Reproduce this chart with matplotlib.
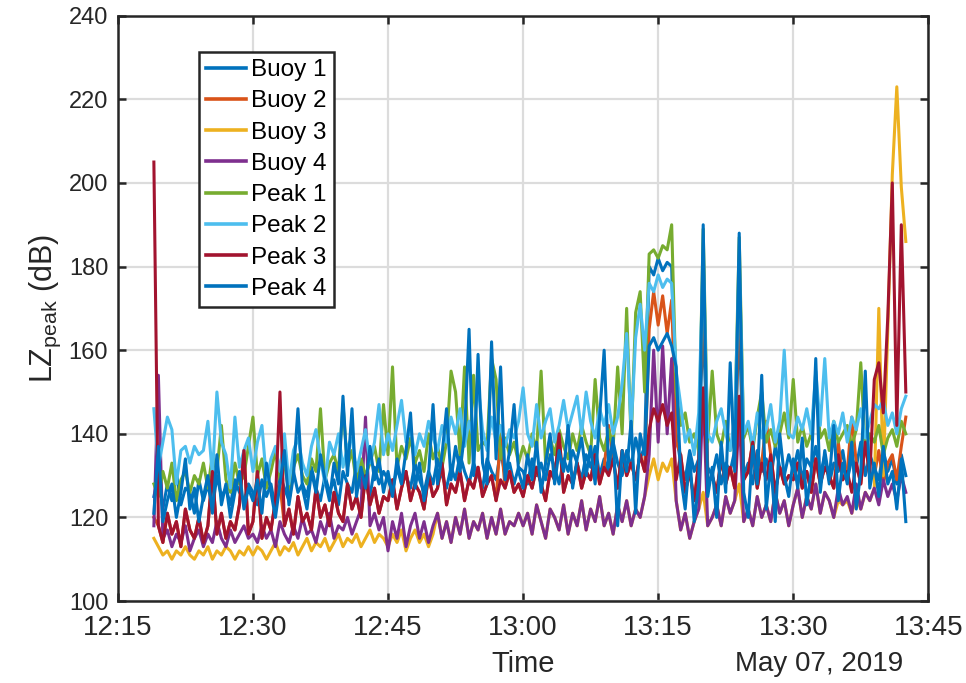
import matplotlib
matplotlib.use("Agg")
import matplotlib.pyplot as plt
import matplotlib.dates as mdates
import pandas as pd

plt.rcParams['font.family'] = ['Liberation Sans', 'DejaVu Sans']
plt.rcParams['mathtext.default'] = 'regular'

# one sample every 30 s, 12:19:00 -> 13:42:30
times = pd.date_range('2019-05-07 12:19:00', periods=168, freq='30s')

buoy1 = [
    125, 130, 122, 128, 124, 131, 123, 127, 126, 121, 129, 124, 128, 122, 130, 125, 127, 123, 129, 126, 124, 128,
    126, 123, 129, 125, 128, 122, 130, 127, 124, 131, 126, 128, 125, 132, 127, 124, 130, 126, 129, 123, 131, 128, 126, 133, 127, 130, 125, 132, 128, 131,
    129, 126, 132, 128, 130, 127, 133, 129, 126, 131, 128, 134, 130, 127, 132, 129, 135, 131, 128, 133, 130, 127, 134, 131, 129, 136, 130, 133, 128, 132,
    131, 128, 134, 130, 133, 129, 135, 132, 128, 134, 131, 136, 133, 129, 135, 132, 137, 130, 134, 131, 138, 133, 130, 136, 132, 139, 134, 137,
    180, 178, 182, 179, 181, 180,
    140, 133, 129, 136, 131, 134,
    168, 132,
    130, 135, 128, 133, 131, 136,
    167, 130,
    133, 128, 136, 131, 134, 129, 137, 132, 130, 135,
    131, 136, 129, 134, 132, 137, 130, 135, 128, 133, 131, 136, 129, 134, 132, 138, 130, 135,
    132, 129, 136, 131, 134, 128, 135, 130,
]

buoy2 = [
    120, 118, 114, 121, 116, 119, 113, 122, 117, 115, 120, 114, 118, 131, 116, 121, 115, 119, 117, 123, 136, 116,
    119, 131, 115, 120, 117, 124, 128, 118, 122, 116, 125, 119, 121, 117, 127, 120, 123, 118, 126, 121, 119, 128, 122, 125, 120, 130, 123, 127, 121, 125,
    124, 129, 122, 127, 131, 124, 128, 126, 122, 130, 125, 127, 133, 123, 128, 126, 131, 124, 129, 127, 132, 125, 128, 130, 124, 140, 127, 131, 126, 128,
    125, 130, 127, 132, 128, 124, 131, 129, 140, 126, 130, 128, 133, 127, 131, 129, 135, 128, 132, 142, 134, 127, 136, 130, 133, 129, 135, 131,
    165, 174, 166, 173, 164, 172,
    138, 135, 126, 131, 124, 133,
    180, 128,
    130, 126, 134, 128, 132, 127,
    179, 129,
    131, 138, 127, 133, 143, 135, 126, 132, 128, 130,
    129, 133, 127, 131, 126, 134, 128, 132, 130, 127, 138, 129, 131, 144, 133, 128, 138, 130,
    130, 136, 128, 133, 135, 129, 137, 144,
]

buoy3 = [
    115, 113, 111, 112, 110, 112, 111, 113, 111, 110, 112, 111, 113, 110, 112, 111, 113, 112, 110, 112, 111, 113,
    111, 113, 112, 110, 112, 114, 111, 113, 112, 114, 111, 113, 115, 112, 114, 113, 115, 112, 114, 116, 113, 115, 114, 116, 113, 115, 117, 114, 116, 115,
    113, 116, 114, 117, 112, 115, 117, 114, 116, 113, 116, 121, 115, 119, 114, 120, 116, 122, 115, 119, 117, 121, 115, 120, 116, 122, 116, 119, 118, 121,
    118, 121, 116, 123, 119, 115, 122, 120, 117, 123, 116, 121, 118, 124, 117, 122, 119, 125, 118, 121, 116, 123, 119, 124, 118, 122, 120, 125,
    130, 134, 129, 133, 131, 134,
    124, 117, 121, 115, 119, 122,
    126, 118,
    120, 123, 118, 125, 121, 124,
    128, 119,
    122, 118, 125, 120, 123, 119, 126, 121, 124, 118,
    123, 127, 120, 125, 122, 128, 121, 126, 124, 120, 124, 123, 124, 121, 125, 122, 126, 124,
    127, 170, 130, 165, 202, 223, 199, 186,
]

buoy4 = [
    118, 154, 115, 117, 113, 116, 114, 118, 112, 115, 117, 113, 116, 114, 119, 115, 113, 117, 114, 116, 118, 115,
    116, 114, 118, 115, 117, 113, 119, 116, 114, 118, 115, 120, 116, 117, 114, 119, 116, 121, 115, 118, 117, 120, 116, 119, 122, 144, 118, 121, 117, 120,
    112, 119, 115, 121, 113, 118, 121, 115, 119, 114, 118, 121, 115, 119, 114, 120, 116, 122, 115, 119, 117, 121, 115, 120, 116, 122, 116, 119, 118, 121,
    118, 121, 116, 123, 119, 115, 122, 120, 117, 123, 116, 121, 118, 124, 117, 122, 119, 125, 118, 121, 116, 123, 119, 124, 118, 122, 120, 125,
    135, 160, 138, 161, 140, 158,
    124, 117, 121, 115, 119, 122,
    150, 118,
    120, 123, 118, 125, 121, 124,
    145, 119,
    122, 118, 125, 120, 123, 119, 126, 121, 124, 118,
    123, 127, 120, 125, 122, 128, 121, 126, 124, 120, 127, 123, 125, 121, 128, 122, 126, 124,
    127, 123, 129, 125, 128, 124, 130, 126,
]

peak1 = [
    128, 125, 131, 127, 133, 124, 129, 131, 126, 130, 128, 133, 127, 135, 131, 142, 129, 126, 133, 128, 130, 137,
    144, 130, 134, 127, 131, 136, 129, 133, 126, 132, 135, 130, 128, 134, 131, 146, 129, 133, 135, 131, 147, 132, 136, 128, 134, 130, 133, 137, 131, 147,
    135, 156, 132, 137, 134, 139, 133, 136, 131, 140, 134, 137, 132, 138, 155, 150, 135, 156, 133, 154, 136, 138, 137, 158, 153, 134, 139, 135, 138, 133,
    137, 134, 140, 136, 155, 133, 139, 135, 141, 137, 134, 140, 136, 142, 138, 135, 153, 139, 136, 141, 137, 156, 140, 170, 138, 169, 174, 150,
    183, 184, 182, 185, 184, 190,
    150, 142, 145, 138, 140, 136,
    189, 138,
    155, 140, 137, 143, 136, 141,
    187, 139,
    142, 136, 144, 150, 138, 141, 137, 140, 145, 139,
    153, 138, 142, 137, 140, 152, 139, 141, 136, 143, 138, 140, 142, 137, 141, 157, 136, 140,
    138, 142, 135, 139, 141, 137, 143, 140,
]

peak2 = [
    146, 132, 138, 144, 141, 128, 136, 137, 133, 137, 135, 136, 143, 130, 150, 138, 135, 127, 144, 132, 136, 139,
    131, 138, 142, 129, 134, 137, 131, 140, 128, 136, 139, 133, 130, 137, 141, 134, 128, 138, 135, 140, 132, 137, 139, 131, 136, 141, 133, 138, 147, 135,
    140, 136, 142, 148, 138, 141, 135, 140, 137, 143, 139, 136, 142, 138, 144, 140, 146, 137, 143, 139, 152, 141, 136, 144, 138, 142, 137, 141, 139, 143,
    151, 140, 137, 147, 139, 143, 146, 138, 142, 148, 141, 145, 149, 140, 150, 143, 139, 146, 142, 147, 140, 144, 152, 164, 141, 163, 171, 160,
    176, 174, 178, 175, 177, 176,
    155, 147, 138, 141, 135, 145,
    182, 140,
    138, 143, 146, 140, 136, 144,
    181, 140,
    143, 137, 145, 139, 141, 147, 138, 143, 160, 140,
    139, 144, 141, 146, 140, 155, 142, 158, 139, 143, 140, 145, 138, 144, 141, 146, 139, 143,
    147, 146, 148, 142, 145, 140, 146, 149,
]

peak3 = [
    205, 118, 114, 121, 116, 119, 113, 122, 117, 115, 120, 114, 118, 131, 116, 121, 115, 119, 117, 123, 136, 116,
    119, 131, 115, 120, 117, 124, 150, 118, 122, 116, 125, 119, 121, 117, 127, 120, 123, 118, 126, 121, 119, 128, 122, 125, 120, 130, 123, 127, 121, 125,
    124, 129, 122, 127, 131, 124, 128, 126, 122, 130, 125, 127, 133, 123, 128, 126, 131, 124, 129, 127, 132, 125, 128, 130, 124, 129, 127, 131, 126, 128,
    125, 130, 127, 132, 128, 124, 131, 129, 140, 126, 130, 128, 133, 127, 131, 129, 135, 128, 132, 130, 134, 127, 136, 130, 133, 129, 135, 131,
    141, 146, 143, 147, 142, 145,
    129, 135, 126, 131, 124, 133,
    151, 128,
    130, 126, 134, 128, 132, 127,
    149, 129,
    131, 138, 127, 133, 129, 135, 126, 132, 128, 130,
    129, 133, 127, 131, 126, 134, 128, 132, 130, 127, 135, 129, 131, 126, 133, 128, 138, 130,
    153, 157, 145, 168, 200, 142, 190, 150,
]

peak4 = [
    121, 137, 119, 124, 128, 120, 126, 134, 122, 127, 119, 125, 130, 121, 135, 123, 128, 120, 126, 131, 122, 127,
    124, 129, 121, 133, 126, 120, 128, 136, 123, 130, 146, 127, 122, 131, 126, 135, 129, 124, 133, 128, 149, 130, 146, 125, 132, 127, 137, 129, 134, 126,
    131, 125, 134, 128, 136, 145, 127, 133, 124, 130, 147, 128, 135, 146, 129, 137, 131, 140, 165, 130, 159, 133, 128, 162, 134, 156, 129, 136, 147, 131,
    127, 135, 129, 138, 126, 133, 140, 128, 136, 131, 142, 127, 134, 139, 130, 137, 128, 144, 160, 132, 139, 118, 136, 131, 143, 121, 140, 135,
    161, 163, 160, 162, 164, 161,
    156, 130, 122, 135, 119, 128,
    190, 125,
    132, 120, 138, 126, 157, 131,
    188, 126,
    120, 137, 128, 154, 122, 133, 119, 140, 130, 125,
    134, 127, 139, 123, 131, 158, 126, 136, 129, 142, 124, 133, 128, 138, 122, 131, 155, 127,
    133, 125, 137, 128, 131, 122, 134, 119,
]

labels = ['Buoy 1', 'Buoy 2', 'Buoy 3', 'Buoy 4', 'Peak 1', 'Peak 2', 'Peak 3', 'Peak 4']
series = [buoy1, buoy2, buoy3, buoy4, peak1, peak2, peak3, peak4]
colors = ['#0072BD', '#D95319', '#EDB120', '#7E2F8E', '#77AC30', '#4DBEEE', '#A2142F', '#0072BD']

for name, vals in zip(labels, series):
    if len(vals) != len(times):
        raise ValueError(name + " has " + str(len(vals)) + " values")

fig = plt.figure(figsize=(9.66, 6.83), dpi=100)
ax = fig.add_axes([0.122, 0.12, 0.839, 0.857])

for name, vals, c in zip(labels, series, colors):
    ax.plot(times, vals, color=c, lw=2.2, label=name)

ax.set_ylim(100, 240)
ax.set_yticks(range(100, 241, 20))
ax.set_xlim(pd.Timestamp('2019-05-07 12:15'), pd.Timestamp('2019-05-07 13:45'))
ax.xaxis.set_major_locator(mdates.MinuteLocator(byminute=[0, 15, 30, 45]))
ax.xaxis.set_major_formatter(mdates.DateFormatter('%H:%M'))

ax.set_axisbelow(True)
ax.grid(True, color='#dcdcdc', lw=1.6)
for s in ax.spines.values():
    s.set_linewidth(1.8)
    s.set_color('#262626')
ax.tick_params(direction='in', top=True, right=True, length=6, width=1.8, colors='#262626')
ax.tick_params(axis='x', labelsize=20, pad=10)
ax.tick_params(axis='y', labelsize=17, pad=7)

ax.set_ylabel('LZ$_{peak}$ (dB)', fontsize=22, color='#262626')
ax.set_xlabel('Time', fontsize=21, color='#262626', va='center')
ax.xaxis.set_label_coords(0.5, -0.107)
ax.text(0.865, -0.107, 'May 07, 2019', transform=ax.transAxes, ha='center', va='center',
        fontsize=20, color='#262626')

leg = ax.legend(loc='upper left', bbox_to_anchor=(0.1, 0.9385), borderaxespad=0,
                fontsize=17.5, fancybox=False, framealpha=1, edgecolor='#262626',
                handlelength=1.65, labelspacing=0.38, borderpad=0.3, handletextpad=0.2)
leg.get_frame().set_linewidth(1.8)
for line in leg.get_lines():
    line.set_linewidth(2.6)

fig.savefig('out.png', dpi=100)
